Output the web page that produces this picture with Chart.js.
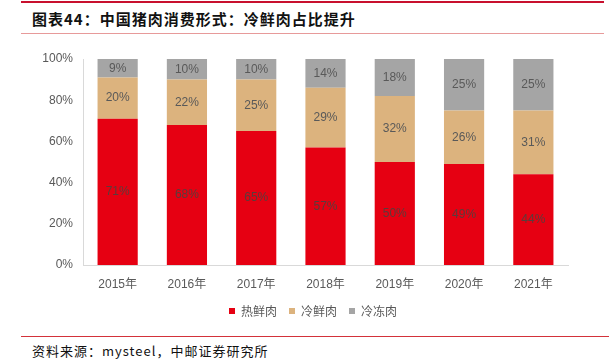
<!DOCTYPE html>
<html>
<head>
<meta charset="utf-8">
<script src="https://cdn.jsdelivr.net/npm/chart.js@4"></script>
<style>
  body { margin: 0; width: 609px; height: 359px; background: #fff; position: relative; overflow: hidden; }
  .line-top { position: absolute; left: 21px; right: 5px; top: 1px; height: 2px; background: #c8102e; }
  .line-sub { position: absolute; left: 21px; right: 5px; top: 33px; height: 1px; background: #e79a9a; }
  .line-bot { position: absolute; left: 21px; right: 0; top: 336px; height: 1px; background: #d3323a; }
  .title { position: absolute; left: 32px; top: 8px; font: bold 15px "Noto Sans CJK SC", sans-serif; color: #111; letter-spacing: 1px; }
  .source { position: absolute; left: 32px; top: 341px; font: 13px "Noto Sans CJK SC", sans-serif; color: #111; letter-spacing: 1px; }
  #wrap { position: absolute; left: 0; top: 40px; width: 609px; height: 290px; }
</style>
</head>
<body>
<div class="line-top"></div>
<div class="title">图表44：中国猪肉消费形式：冷鲜肉占比提升</div>
<div class="line-sub"></div>
<div id="wrap"><canvas id="c"></canvas></div>
<div class="line-bot"></div>
<div class="source">资料来源：mysteel，中邮证券研究所</div>
<script>
// 数据
const years = ['2015年', '2016年', '2017年', '2018年', '2019年', '2020年', '2021年'];
const hotFresh = [71, 68, 65, 57, 50, 49, 44];   // 热鲜肉
const chilled = [20, 22, 25, 29, 32, 26, 31];    // 冷鲜肉
const frozen = [9, 10, 10, 14, 18, 25, 25];      // 冷冻肉
const yTicks = [0, 20, 40, 60, 80, 100];

// 柱子中间的百分比标签
const barLabels = {
  id: 'barLabels',
  afterLayout(chart) {
    // 图例稍微往右挪一点
    chart.legend.left += 10;
    chart.legend.right += 10;
  },
  afterDatasetsDraw(chart) {
    const ctx = chart.ctx;
    ctx.save();
    ctx.font = '12px "Liberation Sans", Arial, sans-serif';
    ctx.textAlign = 'center';
    ctx.textBaseline = 'middle';
    chart.data.datasets.forEach((ds, i) => {
      ctx.fillStyle = i === 0 ? '#5a3c3c' : '#595959';
      chart.getDatasetMeta(i).data.forEach((bar, j) => {
        const mid = (bar.y + bar.base) / 2;
        ctx.fillText(ds.data[j] + '%', bar.x, mid);
      });
    });
    ctx.restore();
  }
};

const ctx = document.getElementById('c').getContext('2d');
new Chart(ctx, {
  type: 'bar',
  data: {
    labels: years,
    datasets: [
      { label: '热鲜肉', data: hotFresh, backgroundColor: '#e60012' },
      { label: '冷鲜肉', data: chilled, backgroundColor: '#dcb37e' },
      { label: '冷冻肉', data: frozen, backgroundColor: '#a5a5a5' }
    ]
  },
  options: {
    responsive: true,
    maintainAspectRatio: false,
    animation: false,
    datasets: { bar: { barPercentage: 0.58, categoryPercentage: 1 } },
    layout: { padding: { left: 38, right: 41, top: 19, bottom: 3 } },
    plugins: {
      tooltip: { enabled: false },
      legend: {
        position: 'bottom',
        labels: {
          boxWidth: 6, boxHeight: 6, padding: 12,
          color: '#595959',
          font: { size: 12, family: '"Noto Sans CJK SC", sans-serif' }
        }
      }
    },
    scales: {
      x: {
        stacked: true,
        grid: { display: false },
        border: { color: '#d9d9d9', width: 1 },
        ticks: { color: '#595959', font: { size: 12, family: '"Liberation Sans", "Noto Sans CJK SC", sans-serif' }, padding: 4 },
        afterFit(scale) { scale.height = 28; }
      },
      y: {
        stacked: true,
        min: 0, max: 100,
        afterBuildTicks(scale) { scale.ticks = yTicks.map(v => ({ value: v })); },
        grid: { display: false, drawTicks: false },
        border: { color: '#d9d9d9', width: 1 },
        ticks: { color: '#595959', padding: 10, font: { size: 12, family: '"Liberation Sans", Arial, sans-serif' }, callback: v => v + '%' },
        afterFit(scale) { scale.width = 45; }
      }
    }
  },
  plugins: [barLabels]
});
</script>
</body>
</html>
